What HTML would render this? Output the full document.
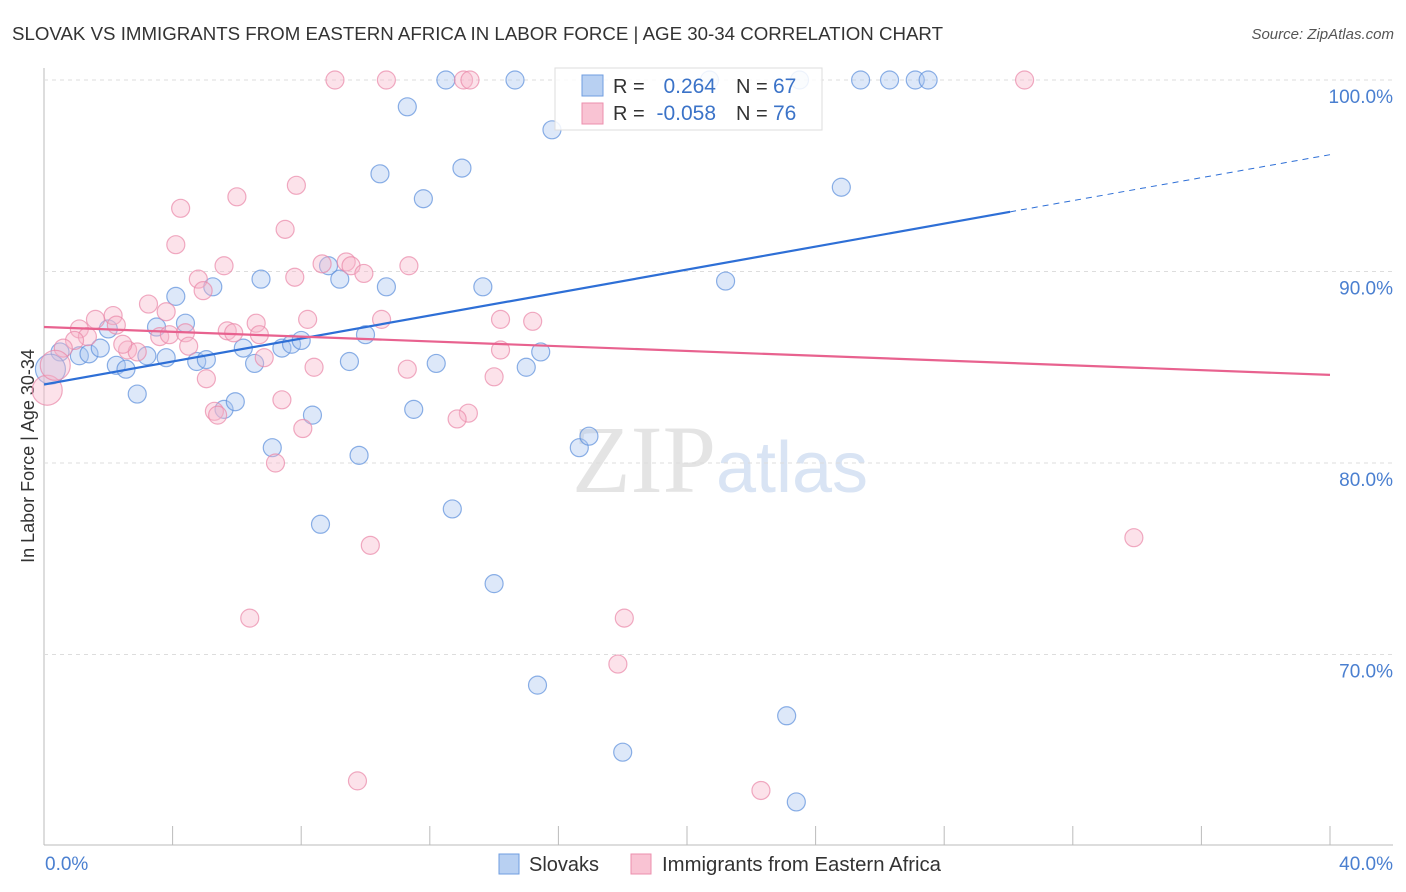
<!DOCTYPE html>
<html><head><meta charset="utf-8">
<style>
body{margin:0;background:#fff;font-family:"Liberation Sans",sans-serif;}
svg{display:block}
</style></head><body>
<svg id="chart" width="1406" height="892">
<text x="12" y="40" font-size="18" fill="#333" textLength="931" lengthAdjust="spacingAndGlyphs">SLOVAK VS IMMIGRANTS FROM EASTERN AFRICA IN LABOR FORCE | AGE 30-34 CORRELATION CHART</text>
<text x="1394" y="39" font-size="15" fill="#555" text-anchor="end" font-style="italic">Source: ZipAtlas.com</text>
<text x="720" y="492" font-size="96" fill="#e4e4e4" text-anchor="middle" font-family="Liberation Serif,serif">ZIP<tspan fill="#d9e4f4" font-family="Liberation Sans,sans-serif" font-size="72">atlas</tspan></text>
<text transform="translate(34,456) rotate(-90)" font-size="18" fill="#333" text-anchor="middle">In Labor Force | Age 30-34</text>
<g id="grid"></g><g id="pts"></g><g id="lines"></g>
<g>
<rect x="555" y="68" width="267" height="62" fill="#fff" fill-opacity="0.85" stroke="#ddd"/>
<rect x="582" y="75" width="21" height="21" fill="#b8d0f2" stroke="#6f9ee0"/>
<rect x="582" y="103" width="21" height="21" fill="#f9c3d3" stroke="#ec8fae"/>
<text x="613" y="93" font-size="20" fill="#333">R = </text><text x="716" y="93" font-size="21" fill="#3b73c8" text-anchor="end">0.264</text>
<text x="736" y="93" font-size="20" fill="#333">N = </text><text x="773" y="93" font-size="21" fill="#3b73c8">67</text>
<text x="613" y="120" font-size="20" fill="#333">R = </text><text x="716" y="120" font-size="21" fill="#3b73c8" text-anchor="end">-0.058</text>
<text x="736" y="120" font-size="20" fill="#333">N = </text><text x="773" y="120" font-size="21" fill="#3b73c8">76</text>
</g>
<g>
<rect x="499" y="854" width="20" height="20" fill="#b8d0f2" stroke="#6f9ee0"/>
<text x="529" y="871" font-size="20" fill="#333" textLength="70" lengthAdjust="spacingAndGlyphs">Slovaks</text>
<rect x="631" y="854" width="20" height="20" fill="#f9c3d3" stroke="#ec8fae"/>
<text x="662" y="871" font-size="20" fill="#333" textLength="279" lengthAdjust="spacingAndGlyphs">Immigrants from Eastern Africa</text>
</g>
<text x="45" y="870" font-size="19" fill="#4a7fd0">0.0%</text>
<text x="1393" y="870" font-size="19" fill="#4a7fd0" text-anchor="end">40.0%</text>
</svg>
<script>
const blueX=[12.5,14.65,20.7,23.5,25.4,26.3,27.1,27.5,11.3,15.8,13.0,10.45,11.8,24.8,21.2,6.75,4.1,5.25,8.85,9.2,10.65,13.65,3.5,4.4,2.0,0.5,1.1,1.4,1.75,2.25,2.55,3.2,3.8,4.75,5.05,6.2,6.55,7.4,7.7,8.0,10.0,9.5,12.2,15.45,15.0,2.9,5.6,5.95,8.35,11.5,7.1,9.8,16.65,16.95,8.6,12.7,14.0,15.35,23.1,18.0,23.4,0.2];
const blueY=[100,100,100,100,100,100,100,100,98.6,97.4,95.4,95.1,93.8,94.4,89.5,89.6,88.7,89.2,90.3,89.6,89.2,89.2,87.1,87.3,87.0,85.8,85.6,85.7,86.0,85.1,84.9,85.6,85.5,85.3,85.4,86.0,85.2,86.0,86.2,86.4,86.7,85.3,85.2,85.8,85.0,83.6,82.8,83.2,82.5,82.8,80.8,80.4,80.8,81.4,76.8,77.6,73.7,68.4,66.8,64.9,62.3,84.9];
const pinkX=[9.05,10.65,13.05,13.25,30.5,7.85,4.25,6.0,7.5,4.1,5.6,8.65,9.4,9.55,9.95,11.35,4.8,4.95,7.8,3.25,3.8,2.15,1.6,1.1,1.35,2.25,0.95,0.6,2.6,2.9,2.45,3.6,3.9,4.4,4.5,5.7,5.9,6.6,6.7,6.85,8.2,10.5,14.2,15.2,14.2,5.05,8.4,11.3,14.0,5.3,5.4,7.4,8.05,13.2,12.85,7.2,10.15,33.9,6.4,18.05,17.85,9.75,22.3,0.1,0.35];
const pinkY=[100,100,100,100,100,94.5,93.3,93.9,92.2,91.4,90.3,90.4,90.5,90.3,89.9,90.3,89.6,89.0,89.7,88.3,87.9,87.7,87.5,87.0,86.6,87.2,86.4,86.0,85.9,85.8,86.2,86.6,86.7,86.8,86.1,86.9,86.8,87.3,86.7,85.5,87.5,87.5,87.5,87.4,85.9,84.4,85.0,84.9,84.5,82.7,82.5,83.3,81.8,82.6,82.3,80.0,75.7,76.1,71.9,71.9,69.5,63.4,62.9,83.8,85.1];
const yTicks=[100,90,80,70];
const yTickLabels=["100.0%","90.0%","80.0%","70.0%"];
const xTicks=[0,4,8,12,16,20,24,28,32,36,40];
const blueTrend=[84.1,96.1];
const pinkTrend=[87.1,84.6];
const sx=v=>44+v/40*1286;
const sy=v=>80+(100-v)*19.15;
const NS="http://www.w3.org/2000/svg";
function mk(tag,attrs,parent){const e=document.createElementNS(NS,tag);for(const k in attrs)e.setAttribute(k,attrs[k]);parent.appendChild(e);return e;}
const grid=document.getElementById('grid');
const ax=mk('line',{x1:44,y1:68,x2:44,y2:845,stroke:'#bbb'},grid);


const bx=mk('line',{x1:44,y1:845,x2:1393,y2:845,stroke:'#bbb'},grid);


yTicks.forEach((t,i)=>{
 const g=mk('line',{x1:44,y1:sy(t),x2:1393,y2:sy(t),stroke:'#ddd','stroke-dasharray':'4,4'},grid);
 
 
 const tx=mk('text',{x:1393,y:sy(t)+23,'font-size':19,fill:'#4a7fd0','text-anchor':'end'},grid);
 tx.textContent=yTickLabels[i];
 
 
});
xTicks.forEach(t=>{
 const l=mk('line',{x1:sx(t),y1:826,x2:sx(t),y2:845,stroke:'#bbb'},grid);
 
 
});
const pts=document.getElementById('pts');
function draw(X,Y,fill,stroke,name){X.forEach((x,i)=>{
 const r=(x<0.5)?15:9;
 const c=mk('circle',{cx:sx(x),cy:sy(Y[i]),r:r,fill:fill,'fill-opacity':0.4,stroke:stroke,'stroke-opacity':0.7,'stroke-width':1.2},pts);
 
 
});}
draw(blueX,blueY,'#a9c6ef','#5b8fdc','slovak-point');
draw(pinkX,pinkY,'#f7b6ca','#e988a8','eastern-africa-point');
const lines=document.getElementById('lines');
const bEnd=30.05;
const bAt=v=>blueTrend[0]+(blueTrend[1]-blueTrend[0])*v/40;
const l1=mk('line',{x1:sx(0),y1:sy(blueTrend[0]),x2:sx(bEnd),y2:sy(bAt(bEnd)),stroke:'#2e6fd6','stroke-width':2.2},lines);


const l2=mk('line',{x1:sx(bEnd),y1:sy(bAt(bEnd)),x2:sx(40),y2:sy(blueTrend[1]),stroke:'#2e6fd6','stroke-width':1,'stroke-dasharray':'6,5'},lines);


const l3=mk('line',{x1:sx(0),y1:sy(pinkTrend[0]),x2:sx(40),y2:sy(pinkTrend[1]),stroke:'#e8628f','stroke-width':2.2},lines);


</script>
</body></html>
